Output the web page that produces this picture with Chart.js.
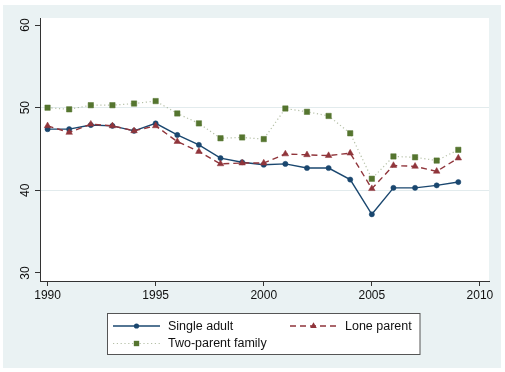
<!DOCTYPE html>
<html>
<head>
<meta charset="utf-8">
<script src="https://cdn.jsdelivr.net/npm/chart.js@4/dist/chart.umd.min.js"></script>
<style>
    html, body { margin: 0; padding: 0; background: #ffffff; }
    #chart { display: block; }
</style>
</head>
<body>
<canvas id="chart" width="505" height="372"></canvas>
<script>
    // Chart values
    const years = [1990, 1991, 1992, 1993, 1994, 1995, 1996, 1997, 1998, 1999,
        2000, 2001, 2002, 2003, 2004, 2005, 2006, 2007, 2008, 2009];
    const singleAdult = [47.4, 47.4, 47.9, 47.8, 47.2, 48.1, 46.7, 45.5, 43.9, 43.4,
        43.1, 43.2, 42.7, 42.7, 41.3, 37.1, 40.3, 40.3, 40.6, 41.0];
    const loneParent = [47.8, 47.0, 48.0, 47.8, 47.2, 47.8, 45.9, 44.7, 43.2, 43.3,
        43.3, 44.4, 44.3, 44.2, 44.5, 40.2, 43.0, 42.9, 42.3, 43.9];
    const twoParent = [50.0, 49.8, 50.3, 50.3, 50.5, 50.8, 49.3, 48.1, 46.3, 46.4,
        46.2, 49.9, 49.5, 49.0, 46.9, 41.4, 44.1, 44.0, 43.6, 44.9];
    const xTicks = [1990, 1995, 2000, 2005, 2010];
    const yTicks = [30, 40, 50, 60];
    const gridValues = [40, 50];
    const seriesLabels = ['Single adult', 'Lone parent', 'Two-parent family'];

    const BG = '#eaf2f3';
    const NAVY = '#1a476f';
    const MAROON = '#90353b';
    const GREEN = '#55752f';
    const FONT = 'Liberation Sans, Arial, Helvetica, sans-serif';

    const toPoints = (values) => years.map((yr, i) => ({ x: yr, y: values[i] }));

    const datasets = [
        {
            label: seriesLabels[0],
            data: toPoints(singleAdult),
            borderColor: NAVY,
            backgroundColor: NAVY,
            borderWidth: 1.4,
            pointStyle: 'circle',
            pointRadius: 2.6,
            pointBorderWidth: 0.5
        },
        {
            label: seriesLabels[1],
            data: toPoints(loneParent),
            borderColor: MAROON,
            backgroundColor: MAROON,
            borderWidth: 1.4,
            borderDash: [6, 4],
            pointStyle: 'triangle',
            pointRadius: 3.8,
            pointBorderWidth: 0.5
        },
        {
            label: seriesLabels[2],
            data: toPoints(twoParent),
            borderColor: 'rgba(120,140,95,0.55)',
            backgroundColor: GREEN,
            pointBorderColor: GREEN,
            borderWidth: 1.2,
            borderDash: [1.2, 2.6],
            pointStyle: 'rect',
            pointRadius: 3.8,
            pointBorderWidth: 0.5
        }
    ];
    // draw dotted series first so others sit on top
    datasets.reverse();

    function drawMarker(ctx, style, x, y, r, color) {
        ctx.save();
        ctx.fillStyle = color;
        ctx.beginPath();
        if (style === 'circle') {
            ctx.arc(x, y, r, 0, Math.PI * 2);
        } else if (style === 'triangle') {
            let rad = 0;
            ctx.moveTo(x + Math.sin(rad) * r, y - Math.cos(rad) * r);
            rad += Math.PI * 2 / 3;
            ctx.lineTo(x + Math.sin(rad) * r, y - Math.cos(rad) * r);
            rad += Math.PI * 2 / 3;
            ctx.lineTo(x + Math.sin(rad) * r, y - Math.cos(rad) * r);
            ctx.closePath();
        } else {
            const s = Math.SQRT1_2 * r;
            ctx.rect(x - s, y - s, 2 * s, 2 * s);
        }
        ctx.fill();
        ctx.restore();
    }

    const backgroundPlugin = {
        id: 'stataBackground',
        beforeDraw(chart) {
            const { ctx, chartArea } = chart;
            ctx.save();
            ctx.fillStyle = BG;
            ctx.fillRect(3, 5, 498, 363);
            ctx.fillStyle = '#ffffff';
            ctx.fillRect(chartArea.left, chartArea.top,
                chartArea.right - chartArea.left, chartArea.bottom - chartArea.top);
            ctx.restore();
        }
    };

    const legendPlugin = {
        id: 'stataLegend',
        afterDraw(chart) {
            const { ctx } = chart;
            const box = { x: 107.5, y: 313.5, w: 312.5, h: 41 };
            const slots = [
                { x: 113, y: 326 },
                { x: 290, y: 326 },
                { x: 113, y: 343.5 }
            ];
            ctx.save();
            ctx.fillStyle = '#ffffff';
            ctx.fillRect(box.x, box.y, box.w, box.h);
            ctx.strokeStyle = '#555555';
            ctx.lineWidth = 1;
            ctx.strokeRect(box.x, box.y, box.w, box.h);

            const ordered = chart.data.datasets.slice().sort(
                (a, b) => seriesLabels.indexOf(a.label) - seriesLabels.indexOf(b.label));
            ordered.forEach((ds, i) => {
                const s = slots[i];
                ctx.save();
                ctx.strokeStyle = ds.borderColor;
                ctx.lineWidth = ds.borderWidth;
                ctx.setLineDash(ds.borderDash || []);
                ctx.beginPath();
                ctx.moveTo(s.x, s.y);
                ctx.lineTo(s.x + 47, s.y);
                ctx.stroke();
                ctx.restore();
                drawMarker(ctx, ds.pointStyle, s.x + 23.5, s.y, ds.pointRadius, ds.backgroundColor);
                ctx.fillStyle = '#111111';
                ctx.font = '12.5px ' + FONT;
                ctx.textBaseline = 'middle';
                ctx.textAlign = 'left';
                ctx.fillText(ds.label, s.x + 55, s.y + 0.5);
            });
            ctx.restore();
        }
    };

    new Chart(document.getElementById('chart'), {
        type: 'line',
        data: { datasets },
        plugins: [backgroundPlugin, legendPlugin],
        options: {
            responsive: false,
            animation: false,
            layout: { padding: { left: 0, top: 18, right: 16, bottom: 61 } },
            plugins: {
                legend: { display: false },
                tooltip: { enabled: false }
            },
            scales: {
                x: {
                    type: 'linear',
                    min: 1989.65,
                    max: 2010.42,
                    afterBuildTicks: (scale) => {
                        scale.ticks = xTicks.map(v => ({ value: v }));
                    },
                    afterFit: (scale) => {
                        scale.height = 30;
                        scale.paddingLeft = 0;
                        scale.paddingRight = 0;
                    },
                    border: { display: true, color: '#333333', width: 1 },
                    grid: {
                        drawOnChartArea: false,
                        drawTicks: true,
                        tickLength: 5,
                        tickColor: '#333333'
                    },
                    ticks: {
                        color: '#111111',
                        font: { family: FONT, size: 12 },
                        padding: 2,
                        maxRotation: 0,
                        callback: (v) => String(v)
                    }
                },
                y: {
                    type: 'linear',
                    min: 29.03,
                    max: 60.85,
                    afterBuildTicks: (scale) => {
                        scale.ticks = yTicks.map(v => ({ value: v }));
                    },
                    afterFit: (scale) => {
                        scale.width = 40;
                        scale.paddingTop = 0;
                        scale.paddingBottom = 0;
                    },
                    border: { display: true, color: '#333333', width: 1 },
                    grid: {
                        color: (c) => (c.tick && gridValues.includes(c.tick.value)) ? '#e2ebed' : 'rgba(0,0,0,0)',
                        lineWidth: 1,
                        drawTicks: true,
                        tickLength: 5,
                        tickColor: '#333333'
                    },
                    ticks: {
                        color: '#111111',
                        font: { family: FONT, size: 12 },
                        padding: 3,
                        minRotation: 90,
                        maxRotation: 90,
                        crossAlign: 'center',
                        callback: (v) => String(v)
                    }
                }
            }
        }
    });
</script>
</body>
</html>
